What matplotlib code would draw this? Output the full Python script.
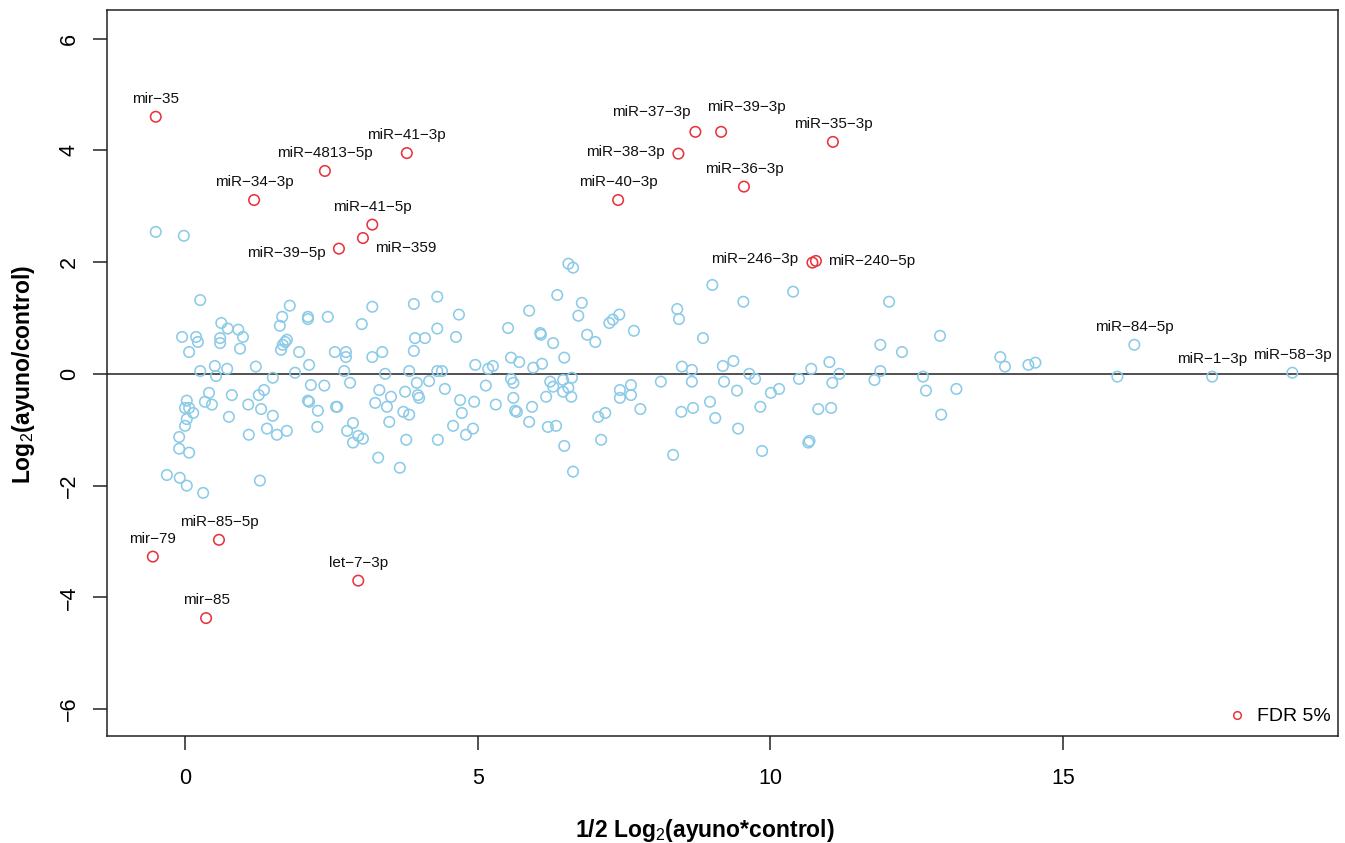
import matplotlib
matplotlib.use("Agg")
import matplotlib.pyplot as plt
from matplotlib.lines import Line2D

plt.rcParams['font.family'] = ['Liberation Sans', 'DejaVu Sans']
plt.rcParams['mathtext.fontset'] = 'custom'
plt.rcParams['mathtext.rm'] = 'Liberation Sans'
plt.rcParams['mathtext.bf'] = 'Liberation Sans:bold'

# non significant miRNAs: A = 1/2 log2(ayuno*control), M = log2(ayuno/control)
a_other = [-0.50, -0.02, 0.26, -0.05, 0.19, 0.22, 0.07, 0.62, 0.73, 0.91,
           0.99, 0.94, 0.60, 0.60, 0.26, 0.51, 0.53, 0.72, 1.21, 1.79,
           1.66, 1.62, 2.10, 2.10, 2.44, 3.20, 3.02, 1.74, 1.71, 1.67,
           1.64, 1.95, 2.12, 1.88, 1.50, 2.56, 2.75, 2.75, 2.72, 2.82,
           3.20, 2.15, 2.38, 1.35, 1.26, 0.80, 0.41, 0.34, 0.46, 0.03,
           0.00, 0.07, 0.14, 0.03, 0.00, -0.10, -0.10, 0.07, -0.31, -0.09,
           0.03, 0.31, 1.28, 0.75, 1.09, 1.30, 1.50, 1.40, 1.57, 1.74,
           1.08, 2.10, 2.12, 2.27, 2.26, 2.58, 2.60, 2.87, 2.77, 2.96,
           3.04, 2.87, 3.30, 3.32, 3.25, 3.42, 3.37, 3.52, 3.45, 3.49,
           3.67, 3.91, 4.31, 4.68, 4.31, 3.93, 4.10, 4.63, 3.91, 3.83,
           3.96, 4.17, 3.98, 4.00, 3.76, 4.44, 4.31, 4.39, 3.73, 3.83,
           3.78, 4.32, 4.70, 4.73, 4.94, 4.58, 4.80, 4.92, 4.96, 5.18,
           5.26, 5.14, 5.31, 5.52, 5.57, 5.71, 5.57, 5.61, 5.61, 5.64,
           5.67, 5.93, 5.88, 5.95, 6.10, 5.88, 6.07, 6.08, 6.29, 6.48,
           6.24, 6.29, 6.17, 6.20, 6.34, 6.48, 6.63, 6.36, 6.55, 6.63,
           6.78, 6.72, 6.87, 7.01, 6.46, 6.61, 6.55, 6.46, 6.60, 7.25,
           7.31, 7.42, 7.43, 7.43, 7.06, 7.18, 7.11, 7.67, 7.62, 7.62,
           7.78, 8.13, 9.01, 8.41, 8.44, 9.54, 10.39, 8.85, 8.49, 8.66,
           8.66, 9.19, 9.37, 9.21, 9.43, 9.64, 9.74, 8.48, 8.68, 8.97,
           9.06, 8.34, 9.45, 9.83, 9.86, 10.01, 10.15, 10.49, 10.70, 10.65,
           10.67, 11.01, 11.18, 11.06, 10.82, 11.04, 11.88, 11.78, 11.88, 12.03,
           12.25, 12.61, 12.66, 12.90, 13.18, 12.92, 13.93, 14.01, 14.41, 14.53,
           15.93]
m_other = [2.54, 2.47, 1.32, 0.66, 0.66, 0.57, 0.39, 0.91, 0.81, 0.79,
           0.66, 0.45, 0.64, 0.55, 0.05, 0.14, -0.04, 0.09, 0.13, 1.22,
           1.02, 0.86, 1.02, 0.98, 1.02, 1.20, 0.89, 0.61, 0.57, 0.52,
           0.43, 0.39, 0.16, 0.02, -0.07, 0.39, 0.39, 0.30, 0.05, -0.16,
           0.30, -0.20, -0.21, -0.29, -0.38, -0.38, -0.34, -0.50, -0.55, -0.48,
           -0.61, -0.61, -0.70, -0.81, -0.93, -1.13, -1.34, -1.41, -1.81, -1.86,
           -2.00, -2.13, -1.91, -0.77, -1.09, -0.63, -0.75, -0.98, -1.09, -1.02,
           -0.55, -0.48, -0.50, -0.66, -0.95, -0.59, -0.59, -0.88, -1.02, -1.11,
           -1.16, -1.23, -1.50, -0.29, -0.52, 0.00, 0.39, -0.41, -0.59, -0.86,
           -1.68, 1.25, 1.38, 1.06, 0.81, 0.64, 0.64, 0.66, 0.41, 0.05,
           -0.16, -0.13, -0.38, -0.43, -0.32, -0.27, 0.05, 0.05, -0.68, -0.73,
           -1.18, -1.18, -0.47, -0.70, -0.50, -0.93, -1.09, -0.98, 0.16, 0.09,
           0.14, -0.21, -0.55, 0.82, 0.29, 0.21, -0.09, -0.16, -0.43, -0.66,
           -0.68, -0.59, -0.86, 0.11, 0.18, 1.13, 0.73, 0.70, 0.55, 0.29,
           -0.14, -0.23, -0.41, -0.95, -0.93, -1.29, -1.75, 1.41, 1.97, 1.90,
           1.27, 1.04, 0.70, 0.57, -0.11, -0.07, -0.25, -0.32, -0.41, 0.91,
           0.97, 1.06, -0.29, -0.43, -0.77, -0.70, -1.18, 0.77, -0.20, -0.38,
           -0.63, -0.14, 1.59, 1.16, 0.98, 1.29, 1.47, 0.64, 0.13, 0.07,
           -0.14, 0.14, 0.23, -0.14, -0.30, 0.00, -0.09, -0.68, -0.61, -0.50,
           -0.79, -1.45, -0.98, -0.59, -1.38, -0.34, -0.27, -0.09, 0.09, -1.23,
           -1.20, 0.21, 0.00, -0.16, -0.63, -0.61, 0.52, -0.11, 0.05, 1.29,
           0.39, -0.05, -0.30, 0.68, -0.27, -0.73, 0.30, 0.13, 0.16, 0.20,
           -0.05]

# labelled non significant miRNAs
names_other = ["miR-84-5p", "miR-1-3p", "miR-58-3p"]
a_lab_other = [16.22, 17.55, 18.92]
m_lab_other = [0.52, -0.05, 0.02]

# significant miRNAs (FDR 5%)
names_sig = ["mir-35", "miR-41-3p", "miR-4813-5p", "miR-34-3p", "miR-41-5p",
             "miR-359", "miR-39-5p", "miR-37-3p", "miR-39-3p", "miR-35-3p",
             "miR-38-3p", "miR-36-3p", "miR-40-3p", "miR-246-3p", "miR-240-5p",
             "mir-79", "miR-85-5p", "let-7-3p", "mir-85"]
a_sig = [-0.50, 3.79, 2.39, 1.18, 3.20, 3.04, 2.63, 8.72, 9.16, 11.07,
         8.43, 9.55, 7.40, 10.72, 10.78, -0.55, 0.58, 2.96, 0.36]
m_sig = [4.60, 3.95, 3.63, 3.11, 2.67, 2.43, 2.24, 4.33, 4.33, 4.15,
         3.94, 3.35, 3.11, 1.99, 2.02, -3.27, -2.97, -3.70, -4.37]

# label placement (pixels) for labels not simply centred above the point
label_pos = {
    "miR-359": (12, -10, "left"),
    "miR-39-5p": (-13, -4, "right"),
    "miR-37-3p": (-5, 20, "right"),
    "miR-39-3p": (-14, 25, "left"),
    "miR-38-3p": (-14, 2, "right"),
    "miR-246-3p": (-14, 4, "right"),
    "miR-240-5p": (12, 0, "left"),
}

blue = "#8ccbe8"
red = "#e8343e"

fig = plt.figure(figsize=(13.45, 8.43), dpi=100)
ax = fig.add_axes([107 / 1345, 1 - 736 / 843, (1338 - 107) / 1345, (736 - 10) / 843])

ax.scatter(a_other, m_other, s=57, facecolors="none", edgecolors=blue, linewidths=1.15, zorder=2)
ax.scatter(a_lab_other, m_lab_other, s=57, facecolors="none", edgecolors=blue, linewidths=1.15, zorder=2)
ax.scatter(a_sig, m_sig, s=57, facecolors="none", edgecolors=red, linewidths=1.15, zorder=3)
ax.axhline(0, color="#222222", lw=1.1, zorder=1)

for name, xx, yy in list(zip(names_sig, a_sig, m_sig)) + list(zip(names_other, a_lab_other, m_lab_other)):
    dx, dy, ha = label_pos.get(name, (0, 18, "center"))
    ax.annotate(name.replace("-", "\u2212"), (xx, yy), xytext=(dx, dy), textcoords="offset pixels",
                ha=ha, va="center", fontsize=11, color="#111111", zorder=4)

ax.set_xlim(-1.333, 19.70)
ax.set_ylim(-6.48, 6.51)
ax.set_xticks([0, 5, 10, 15])
ax.set_yticks([-6, -4, -2, 0, 2, 4, 6])
ax.tick_params(axis="both", length=10, width=1.1, labelsize=15.5, color="#222222")
ax.tick_params(axis="x", pad=13)
ax.tick_params(axis="y", pad=9.5, labelrotation=90)
for lab in ax.get_yticklabels():
    lab.set_va("center")
for sp in ax.spines.values():
    sp.set_linewidth(1.1)
    sp.set_color("#222222")

fig.text(705 / 1345, 1 - 837 / 843, r"1/2 Log$_2$(ayuno*control)", ha="center", va="baseline",
         fontsize=16.5, fontweight="bold")
fig.text(24 / 1345, 1 - 374 / 843, r"Log$_2$(ayuno/control)", ha="center", va="center",
         rotation=90, fontsize=16.5, fontweight="bold")

handle = Line2D([], [], ls="none", marker="o", ms=5.5, mfc="none", mec=red, mew=1.1)
ax.legend([handle], ["FDR 5%"], loc="lower right", frameon=False, fontsize=14,
          handlelength=0.8, handletextpad=0.6, borderaxespad=0.4,
          bbox_to_anchor=(1 + 8 / 1231, -5 / 726))

fig.savefig("out.png", dpi=100)
